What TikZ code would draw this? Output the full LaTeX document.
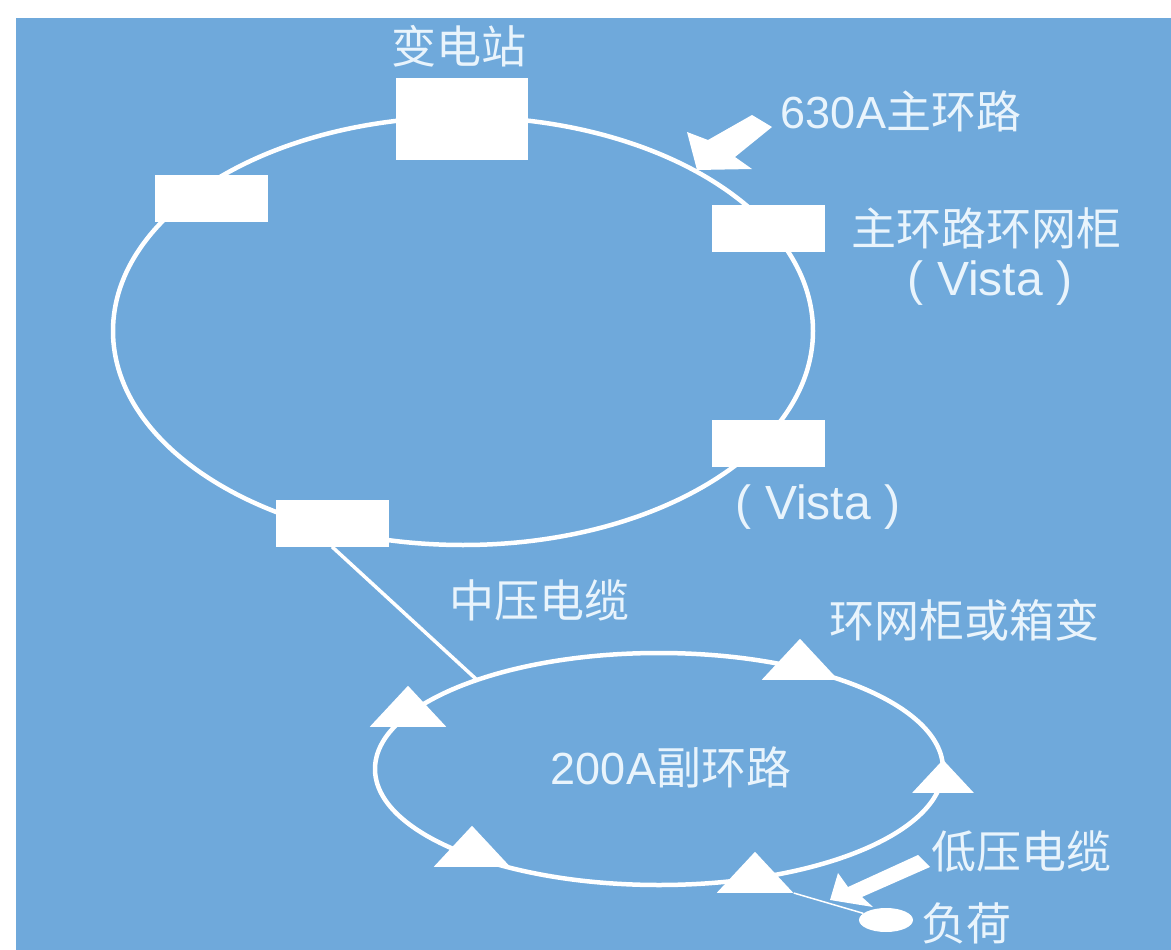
\documentclass[tikz,border=0pt]{standalone}
\usepackage{fontspec}
\setmainfont{Liberation Sans}
\newfontfamily\cjk{Noto Sans CJK SC}
\usetikzlibrary{shapes.geometric}
\definecolor{panelblue}{HTML}{6FA9DB}
\definecolor{labelwhite}{HTML}{E9F4FC}
\tikzset{
	ring/.style={draw=white,line width=4.5pt,ellipse,inner sep=0pt},
	unit/.style={fill=white,inner sep=0pt,minimum width=113pt,minimum height=47pt},
	tri/.style={fill=white,isosceles triangle,isosceles triangle apex angle=86,shape border rotate=90,inner sep=0pt,minimum height=41pt,anchor=lower side},
	lab/.style={text=labelwhite,inner sep=0pt,align=center,font=\fontsize{45}{54}\selectfont},
	vistalab/.style={lab,font=\fontsize{48}{54}\selectfont}
}
\begin{document}
\begin{tikzpicture}[x=1pt,y=-1pt]
	\useasboundingbox (0,0) rectangle (1171,950);
	\fill[white] (0,0) rectangle (1171,950);
	\fill[panelblue] (16,18) rectangle (1171,950);
	
	%RINGS
	\node[ring,minimum width=700pt,minimum height=428pt] (mainring) at (463,331) {};
	\node[ring,minimum width=568pt,minimum height=232pt] (subring) at (659,769) {};
	
	%MAIN RING UNITS
	\node[fill=white,inner sep=0pt,minimum width=132pt,minimum height=82pt] (substation) at (462,119) {};
	\node[unit] (unitnw) at (211,198) {};
	\node[unit] (unitne) at (768,228) {};
	\node[unit] (unitse) at (768,443) {};
	\node[unit] (unitsw) at (332,523) {};
	
	%SUB RING UNITS
	\node[tri] (tritop) at (800,680) {};
	\node[tri] (trileft) at (408,727) {};
	\node[tri,minimum height=33pt] (triright) at (943,793) {};
	\node[tri] (trilow) at (472,867) {};
	\node[tri] (tribottom) at (755,893) {};
	\node[ellipse,fill=white,inner sep=0pt,minimum width=54pt,minimum height=24pt] (load) at (886,920) {};
	
	%CABLES
	\coordinate (cablefoot) at (476,679);
	\draw[white,line width=3.5pt] (unitsw.south) -- (cablefoot);
	\draw[white,line width=1.5pt] (tribottom.right corner) -- (load);
	
	%BLOCK ARROWS
	\fill[white] (772,127)--(752,115)--(708,140)--(687,132)--(697,170)--(752,169)--(735,157)--cycle;
	\fill[white] (930,867)--(918,855)--(848,887)--(838,873)--(830,900)--(873,907)--(862,897)--cycle;
	
	%LABELS
	\node[lab] (lsub) at (459,46) {\cjk 变电站};
	\node[lab] (lmain) at (901,111) {630A\cjk 主环路};
	\node[lab] (lunit) at (986,228) {\cjk 主环路环网柜};
	\node[vistalab] (lvista) at (990,283) {( Vista )};
	\node[vistalab] (lvistb) at (818,507) {( Vista )};
	\node[lab] (lmv) at (539,600) {\cjk 中压电缆};
	\node[lab] (lbox) at (964,620) {\cjk 环网柜或箱变};
	\node[lab] (lsubring) at (671,767) {200A\cjk 副环路};
	\node[lab] (llv) at (1021,851) {\cjk 低压电缆};
	\node[lab] (lload) at (966,923) {\cjk 负荷};
\end{tikzpicture}
\end{document}
